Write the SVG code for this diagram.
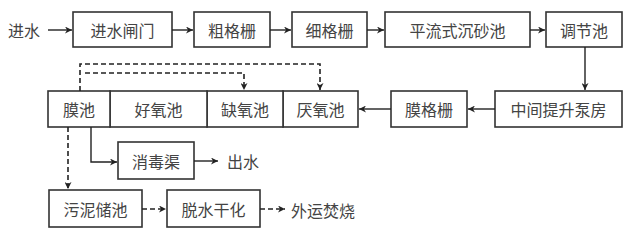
<svg xmlns="http://www.w3.org/2000/svg" width="640" height="238" viewBox="0 0 640 238">
<defs>
<marker id="ah" viewBox="0 0 10 10" refX="10" refY="5" markerWidth="7" markerHeight="7" markerUnits="userSpaceOnUse" orient="auto">
<path d="M0,0 L10,5 L0,10 L3,5 Z" fill="#222"/>
</marker>
</defs>
<style>
.box{fill:#fff;stroke:#333;stroke-width:1.6}
.t{font-family:"Noto Sans CJK SC","Liberation Serif",serif;font-size:16px;fill:#444;text-anchor:middle;dominant-baseline:central}
.tl{font-family:"Noto Sans CJK SC","Liberation Serif",serif;font-size:16px;fill:#444;dominant-baseline:central}
.c{fill:none;stroke:#222;stroke-width:1.4}
.d{fill:none;stroke:#222;stroke-width:1.6;stroke-dasharray:5,3}
</style>
<rect width="640" height="238" fill="#fff"/>
<text class="tl" x="8" y="30">进水</text>
<g id="n1"><rect class="box" x="73" y="12" width="99" height="35"/><text class="t" x="122.5" y="30">进水闸门</text></g>
<g id="n2"><rect class="box" x="194" y="12" width="76" height="35"/><text class="t" x="232" y="30">粗格栅</text></g>
<g id="n3"><rect class="box" x="292" y="12" width="75" height="35"/><text class="t" x="329.5" y="30">细格栅</text></g>
<g id="n4"><rect class="box" x="385" y="12" width="145" height="35"/><text class="t" x="457.5" y="30">平流式沉砂池</text></g>
<g id="n5"><rect class="box" x="546" y="12" width="76" height="35"/><text class="t" x="584" y="30">调节池</text></g>
<g id="n6"><rect class="box" x="495" y="91" width="127" height="36"/><text class="t" x="558.5" y="109">中间提升泵房</text></g>
<g id="n7"><rect class="box" x="391" y="91" width="76" height="36"/><text class="t" x="429" y="109">膜格栅</text></g>
<g id="n8"><rect class="box" x="283" y="91" width="75" height="36"/><text class="t" x="320.5" y="109">厌氧池</text></g>
<g id="n9"><rect class="box" x="207" y="91" width="76" height="36"/><text class="t" x="245" y="109">缺氧池</text></g>
<g id="n10"><rect class="box" x="110" y="91" width="97" height="36"/><text class="t" x="158.5" y="109">好氧池</text></g>
<g id="n11"><rect class="box" x="48" y="91" width="62" height="36"/><text class="t" x="79" y="109">膜池</text></g>
<g id="n12"><rect class="box" x="118" y="142" width="76" height="37"/><text class="t" x="156" y="160.5">消毒渠</text></g>
<g id="n13"><rect class="box" x="49" y="190" width="93" height="37"/><text class="t" x="95.5" y="208.5">污泥储池</text></g>
<g id="n14"><rect class="box" x="167" y="190" width="93" height="37"/><text class="t" x="213.5" y="208.5">脱水干化</text></g>
<text class="tl" x="227" y="161">出水</text>
<text class="tl" x="291" y="210">外运焚烧</text>
<g id="connectors">
<path class="c" d="M48,30 H72" marker-end="url(#ah)"/>
<path class="c" d="M172,30 H193" marker-end="url(#ah)"/>
<path class="c" d="M270,30 H291" marker-end="url(#ah)"/>
<path class="c" d="M367,30 H384" marker-end="url(#ah)"/>
<path class="c" d="M530,30 H545" marker-end="url(#ah)"/>
<path class="c" d="M585,47 V90" marker-end="url(#ah)"/>
<path class="c" d="M495,109 H468" marker-end="url(#ah)"/>
<path class="c" d="M391,109 H359" marker-end="url(#ah)"/>
<path class="d" d="M80,91 V64 H320 V90" marker-end="url(#ah)"/>
<path class="d" d="M85,73 H244 V90" marker-end="url(#ah)"/>
<path class="c" d="M91,127 V162 H117" marker-end="url(#ah)"/>
<path class="c" d="M194,161 H218" marker-end="url(#ah)"/>
<path class="d" d="M68,127 V189" marker-end="url(#ah)"/>
<path class="d" d="M142,209 H166" marker-end="url(#ah)"/>
<path class="d" d="M260,209 H285" marker-end="url(#ah)"/>
</g>
</svg>
